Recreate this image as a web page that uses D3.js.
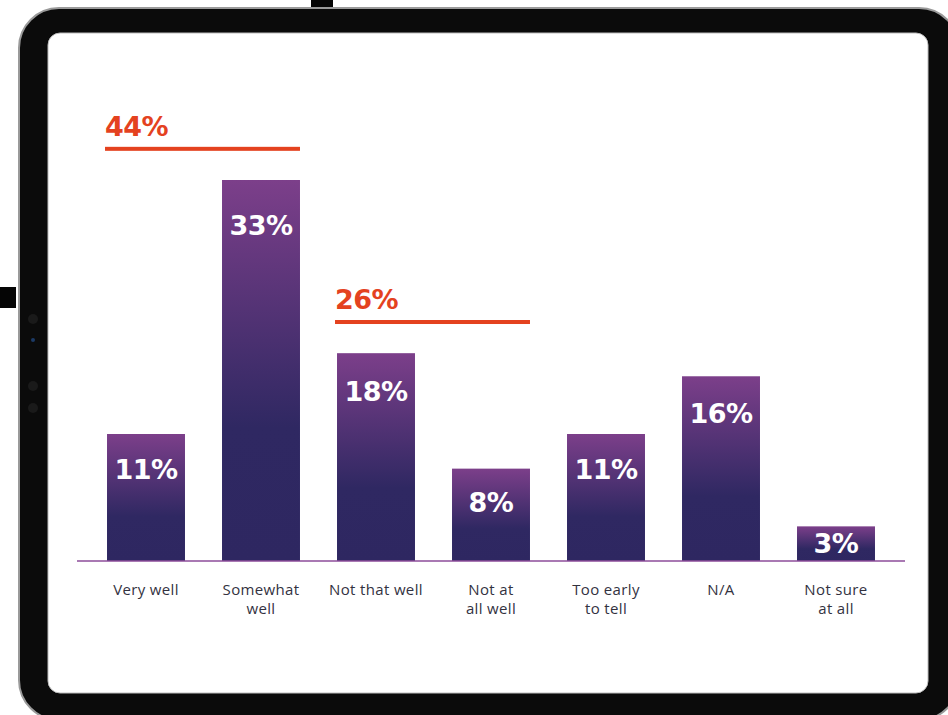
<!DOCTYPE html>
<html>
<head>
<meta charset="utf-8">
<script src="https://cdn.jsdelivr.net/npm/d3@7"></script>
<style>
  html, body { margin: 0; padding: 0; background: #fff; }
  svg { display: block; }
</style>
</head>
<body>
<svg id="chart" width="948" height="715"></svg>
<script>
// ---- data ----
const categories = ["Very well", "Somewhat well", "Not that well", "Not at all well", "Too early to tell", "N/A", "Not sure at all"];
const categoryLines = [["Very well"], ["Somewhat", "well"], ["Not that well"], ["Not at", "all well"], ["Too early", "to tell"], ["N/A"], ["Not sure", "at all"]];
const values = [11, 33, 18, 8, 11, 16, 3];
const groupLabels = ["44%", "26%"];
const groupMembers = [["Very well", "Somewhat well"], ["Not that well", "Not at all well"]];

// ---- layout ----
const W = 948, H = 715;
const svg = d3.select("#chart");
const defs = svg.append("defs");

// tablet frame
svg.append("rect").attr("x", 0).attr("y", 287).attr("width", 16).attr("height", 21).attr("fill", "#050505");
svg.append("rect").attr("x", 311).attr("y", 0).attr("width", 22).attr("height", 12).attr("fill", "#050505");
svg.append("rect").attr("x", 19).attr("y", 8).attr("width", 940).attr("height", 712)
  .attr("rx", 40).attr("fill", "#0b0b0b").attr("stroke", "#9a9a9a").attr("stroke-width", 2);
svg.append("rect").attr("x", 48).attr("y", 33).attr("width", 880).attr("height", 660)
  .attr("rx", 12).attr("fill", "#ffffff").attr("stroke", "#bdbdbd").attr("stroke-width", 1);
[[33, 319, "#1a1a1a"], [33, 340, "#1c3a66"], [33, 386, "#1a1a1a"], [33, 408, "#1a1a1a"]].forEach(d => {
  svg.append("circle").attr("cx", d[0]).attr("cy", d[1]).attr("r", d[2] === "#1c3a66" ? 2 : 5).attr("fill", d[2]);
});

const baseY = 561;
const x = d3.scaleBand().domain(categories).range([88.5, 893.5]).paddingInner(0.322).paddingOuter(0.161);
const y = d3.scaleLinear().domain([0, 33]).range([baseY, 180]);

const grad = defs.append("linearGradient").attr("id", "barGrad")
  .attr("x1", 0).attr("y1", 0).attr("x2", 0).attr("y2", 1);
grad.append("stop").attr("offset", "0%").attr("stop-color", "#7c3f8a");
grad.append("stop").attr("offset", "65%").attr("stop-color", "#2f2862");
grad.append("stop").attr("offset", "100%").attr("stop-color", "#2e2761");

const data = categories.map((c, i) => ({ cat: c, v: values[i], lines: categoryLines[i] }));

// bars
svg.append("g").selectAll("rect").data(data).join("rect")
  .attr("x", d => x(d.cat))
  .attr("y", d => y(d.v))
  .attr("width", x.bandwidth())
  .attr("height", d => baseY - y(d.v))
  .attr("fill", "url(#barGrad)");

// axis baseline
svg.append("line").attr("x1", 77).attr("x2", 905).attr("y1", baseY).attr("y2", baseY)
  .attr("stroke", "#8d4c9a").attr("stroke-width", 1.6);

// value labels
const valFont = "'DejaVu Sans', sans-serif";
svg.append("g").selectAll("text").data(data).join("text")
  .attr("x", d => x(d.cat) + x.bandwidth() / 2)
  .attr("y", d => {
    const h = baseY - y(d.v);
    return y(d.v) + Math.min(h / 2, 30 + h * 0.04);
  })
  .attr("dy", "0.36em")
  .attr("text-anchor", "middle")
  .attr("fill", "#ffffff")
  .attr("font-family", valFont)
  .attr("font-weight", "bold")
  .attr("font-size", 27)
  .attr("letter-spacing", -0.5)
  .text(d => d.v + "%");

// category labels (one text element per line)
const catG = svg.append("g");
data.forEach(d => {
  d.lines.forEach((ln, j) => {
    catG.append("text")
      .attr("x", x(d.cat) + x.bandwidth() / 2)
      .attr("y", 595 + j * 19)
      .attr("text-anchor", "middle")
      .attr("fill", "#33323f")
      .attr("font-family", "'Open Sans', sans-serif")
      .attr("font-size", 15)
      .attr("letter-spacing", 0.35)
      .text(ln);
  });
});

// group annotations
const annoColor = "#e4421f";
groupMembers.forEach((members, i) => {
  const x0 = x(members[0]) - 2;
  const x1 = x(members[members.length - 1]) + x.bandwidth();
  const maxV = d3.max(members, m => values[categories.indexOf(m)]);
  const ly = y(maxV + 2.7);
  svg.append("rect").attr("x", x0).attr("y", ly - 2).attr("width", x1 - x0).attr("height", 4).attr("fill", annoColor);
  svg.append("text").attr("x", x0).attr("y", ly - 13)
    .attr("fill", annoColor)
    .attr("font-family", valFont)
    .attr("font-weight", "bold")
    .attr("font-size", 27)
    .attr("letter-spacing", -0.5)
    .text(groupLabels[i]);
});
</script>
</body>
</html>
